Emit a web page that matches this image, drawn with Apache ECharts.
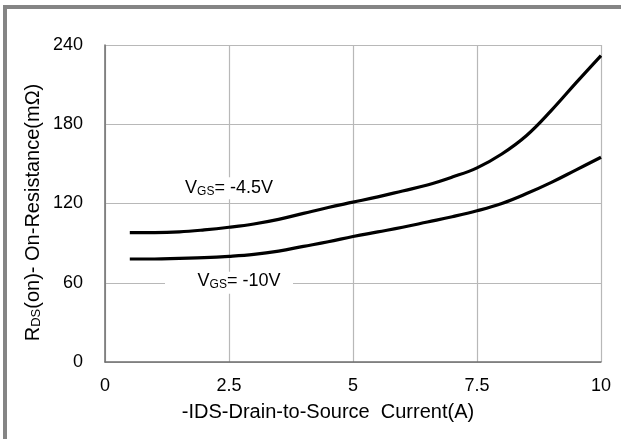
<!DOCTYPE html>
<html>
<head>
<meta charset="utf-8">
<script src="https://cdn.jsdelivr.net/npm/echarts@6/dist/echarts.min.js"></script>
<style>
html, body { margin: 0; padding: 0; background: #fff; }
#chart { width: 621px; height: 439px; }
</style>
</head>
<body>
<div id="chart"></div>
<script>
// drain current (A)
var current = [0.5, 1, 1.5, 2, 2.5, 3, 3.5, 4, 4.5, 5, 5.5, 6, 6.5, 7, 7.5, 8, 8.5, 9, 9.5, 10];
// on-resistance (mOhm)
var rdsVgs45 = [98, 98, 98.5, 100, 102, 104.5, 108, 112.5, 117, 121, 125, 129.5, 134, 140, 147, 157.5, 171.5, 190.5, 211.5, 232];
var rdsVgs10 = [78, 78, 78.5, 79, 80, 81.5, 84, 87.5, 91, 95, 98.5, 102, 106, 110, 114.5, 120, 127.5, 136, 145.5, 155];
var xTicks = [0, 2.5, 5, 7.5, 10];
var yTicks = [0, 60, 120, 180, 240];

function pairs(xs, ys) {
	var out = [];
	for (var i = 0; i < xs.length; i++) {
		out.push([xs[i], ys[i]]);
	}
	return out;
}

var fontName = "'Liberation Sans', Arial, sans-serif";

var vgsRich = {
	m: { fontFamily: fontName, fontSize: 18, color: '#000' },
	s: { fontFamily: fontName, fontSize: 12, color: '#000', verticalAlign: 'bottom', padding: [7, 0, 0, 0] }
};

var chart = echarts.init(document.getElementById('chart'));
var option = {
	backgroundColor: '#fff',
	animation: false,
	grid: { left: 105, right: 20, top: 45, bottom: 77 },
	graphic: [
		{ type: 'rect', shape: { x: 3, y: 5, width: 4, height: 434 }, style: { fill: '#858585' } },
		{ type: 'rect', shape: { x: 3, y: 5, width: 618, height: 4 }, style: { fill: '#858585' } }
	],
	xAxis: {
		type: 'value',
		min: xTicks[0],
		max: xTicks[xTicks.length - 1],
		interval: 2.5,
		name: '-IDS-Drain-to-Source  Current(A)',
		nameLocation: 'middle',
		nameGap: 40,
		nameMoveOverlap: false,
		nameTextStyle: { fontFamily: fontName, fontSize: 20, color: '#000', padding: [0, 50, 0, 0] },
		axisLine: { lineStyle: { color: '#6e6e6e', width: 1.5 } },
		axisTick: { show: false },
		axisLabel: { fontFamily: fontName, fontSize: 18, color: '#000', margin: 15 },
		splitLine: { lineStyle: { color: '#b8b8b8', width: 1.2 } }
	},
	yAxis: {
		type: 'value',
		min: yTicks[0],
		max: yTicks[yTicks.length - 1],
		interval: 60,
		name: '{m|R}{s|DS}{m|(on)- On-Resistance(mΩ)}',
		nameLocation: 'middle',
		nameGap: 62,
		nameMoveOverlap: false,
		nameRotate: 90,
		nameTextStyle: {
			padding: [0, 18, 0, 0],
			rich: {
				m: { fontFamily: fontName, fontSize: 20, color: '#000' },
				s: { fontFamily: fontName, fontSize: 13, color: '#000', verticalAlign: 'bottom', lineHeight: 14 }
			}
		},
		axisLine: { show: true, lineStyle: { color: '#6e6e6e', width: 1.5 } },
		axisTick: { show: false },
		axisLabel: { fontFamily: fontName, fontSize: 18, color: '#000', margin: 22 },
		splitLine: { lineStyle: { color: '#b8b8b8', width: 1.2 } }
	},
	series: [
		{
			name: 'VGS=-4.5V',
			type: 'line',
			smooth: 0.4,
			showSymbol: false,
			data: pairs(current, rdsVgs45),
			lineStyle: { color: '#000', width: 3.2 },
			markPoint: {
				symbol: 'rect',
				symbolSize: [100, 22],
				itemStyle: { color: '#fff' },
				label: {
					show: true,
					formatter: '{m|V}{s|GS}{m|= -4.5V}',
					rich: vgsRich
				},
				data: [{ coord: [2.5, 131.5] }]
			}
		},
		{
			name: 'VGS=-10V',
			type: 'line',
			smooth: 0.4,
			showSymbol: false,
			data: pairs(current, rdsVgs10),
			lineStyle: { color: '#000', width: 3.2 },
			markPoint: {
				symbol: 'rect',
				symbolSize: [128, 22],
				itemStyle: { color: '#fff' },
				label: {
					show: true,
					offset: [10, -2],
					formatter: '{m|V}{s|GS}{m|= -10V}',
					rich: vgsRich
				},
				data: [{ coord: [2.5, 60] }]
			}
		}
	]
};
chart.setOption(option);
</script>
</body>
</html>
